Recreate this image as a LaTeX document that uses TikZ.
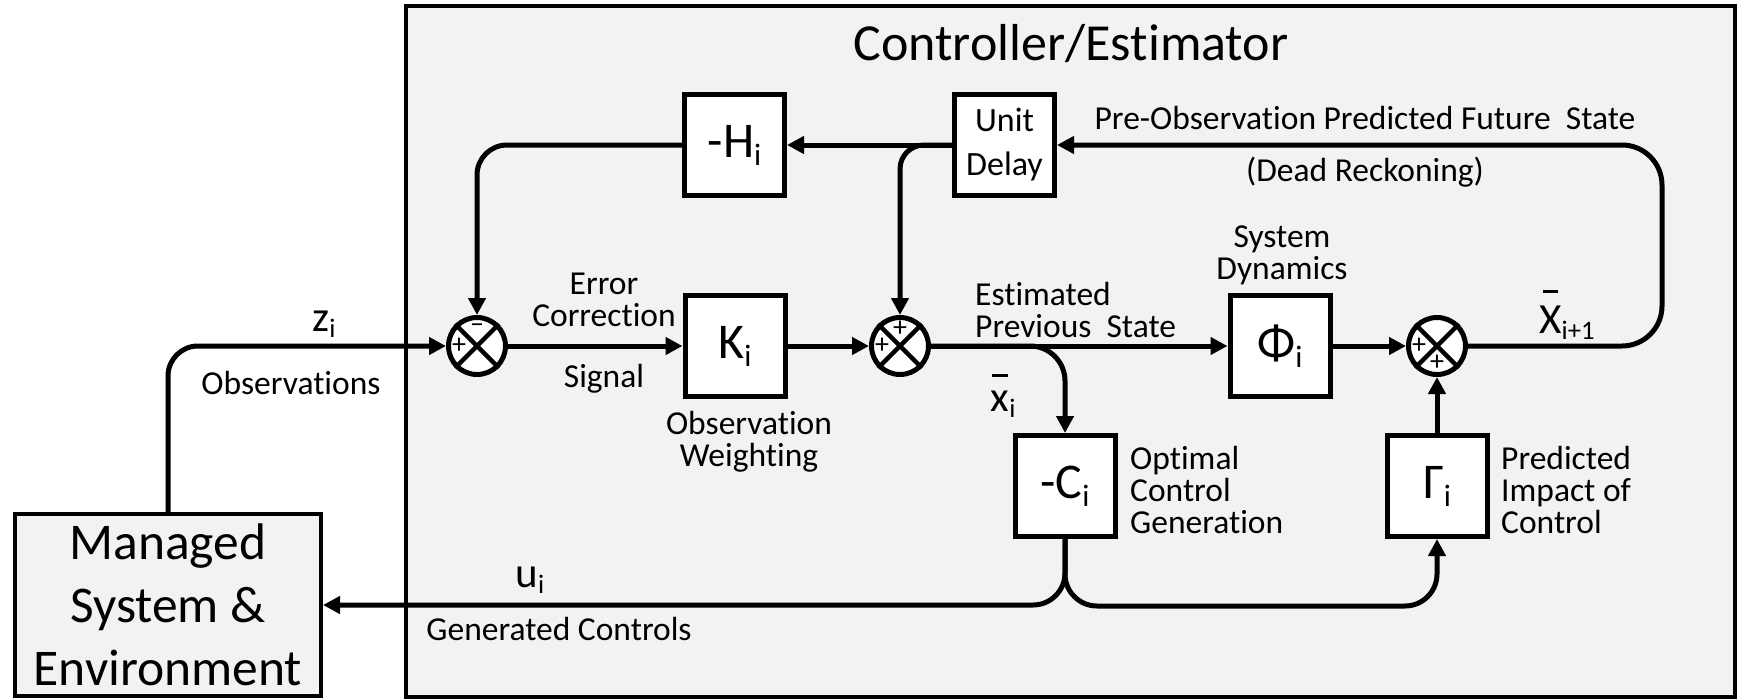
\documentclass[tikz,border=0pt]{standalone}
\usepackage{fontspec}
\setmainfont{Carlito}[Ligatures=NoCommon]
\usetikzlibrary{arrows.meta,calc}
\definecolor{bg}{HTML}{F2F2F2}
\newcommand\ovb[2]{\ooalign{#1\cr\hidewidth\raisebox{#2}{\rule{0.36em}{0.09em}}\hidewidth\cr}}
\newcommand\sbs[1]{\raisebox{-0.16em}{\fontsize{\the\dimexpr0.62\fontdimen6\font\relax}{0pt}\selectfont #1}}
\begin{document}
\begin{tikzpicture}[x=1pt,y=-1pt,
  every node/.style={inner sep=0pt},
  blk/.style={draw,line width=5pt,fill=white,minimum width=100pt,minimum height=101pt,font=\fontsize{50}{60}\selectfont},
  sumj/.style={circle,draw,line width=5pt,fill=white,minimum size=57pt},
  sgn/.style={font=\fontsize{28}{30}\selectfont},
  lbl/.style={font=\fontsize{33.5}{32}\selectfont},
  var/.style={font=\fontsize{43}{50}\selectfont,anchor=base},
  conn/.style={line width=5pt},
  arr/.style={conn,-{Triangle[length=17pt,width=17pt]}}
]
\useasboundingbox (0,0) rectangle (1737,699);
% controller box
\draw[line width=4pt,fill=bg] (406,6) rectangle (1735,697);
\node[font=\fontsize{52}{60}\selectfont] (title) at (1071,44) {Controller/Estimator};
% managed system
\node[draw,line width=4pt,fill=bg,minimum width=306pt,minimum height=182pt,align=center,
  font=\fontsize{51.5}{63}\selectfont] (M) at (168,605) {Managed\\System \&\\Environment};
% blocks
\node[blk] (H) at (734.5,145) {-H\sbs{i}};
\node[blk,font=\fontsize{34}{44}\selectfont,align=center] (UD) at (1004.5,145) {Unit\\Delay};
\node[blk] (K) at (735,346) {K\sbs{i}};
\node[blk] (PH) at (1280,346) {Φ\sbs{i}};
\node[blk] (C) at (1065,486) {-C\sbs{i}};
\node[blk] (G) at (1437,486) {Γ\sbs{i}};
% summing junctions
\node[sumj] (S1) at (477,346) {};
\node[sumj] (S2) at (900,346) {};
\node[sumj] (S3) at (1437,346) {};
\foreach \s in {S1,S2,S3}{
  \draw[line width=4.5pt] (\s.north east)--(\s.south west) (\s.north west)--(\s.south east);
}
\node[sgn] (s1a) at ([yshift=18pt]S1) {–};
\node[sgn] (s1b) at ([xshift=-18pt]S1) {+};
\node[sgn] (s2a) at ([yshift=17pt]S2) {+};
\node[sgn] (s2b) at ([xshift=-18pt]S2) {+};
\node[sgn] (s3a) at ([xshift=-18pt]S3) {+};
\node[sgn] (s3b) at ([yshift=-17pt]S3) {+};
% connectors
\coordinate (Rc) at (1662,250);
\coordinate (B) at (1250,606);
\draw[arr,rounded corners=30pt] (M.north) |- (S1.west);
\draw[arr] (S1.east) -- (K.west);
\draw[arr] (K.east) -- (S2.west);
\draw[arr] (S2.east) -- (PH.west);
\draw[arr,rounded corners=35pt] (S2.east) -| (C.north);
\draw[arr] (PH.east) -- (S3.west);
\draw[arr,rounded corners=40pt] (S3.east) -| (Rc) |- (UD.east);
\draw[arr] (UD.west) -- (H.east);
\draw[arr,rounded corners=24pt] (UD.west) -| (S2.north);
\draw[arr,rounded corners=30pt] (H.west) -| (S1.north);
\draw[arr,rounded corners=32pt] (C.south) |- (M.east);
\draw[arr,rounded corners=32pt] (C.south) |- (B) -| (G.south);
\draw[arr] (G.north) -- (S3.south);
% labels
\node[var] (zl) at (324,331) {z\sbs{i}};
\node[lbl] (obs) at (291,383) {Observations};
\node[lbl,align=center] (err) at (604,300) {Error\\Correction};
\node[lbl] (sig) at (604,379) {Signal};
\node[lbl,align=center] (ow) at (749,442) {Observation\\Weighting};
\node[lbl,align=left,anchor=west] (est) at (975,310) {Estimated\\Previous\ \ State};
\node[var] (xi) at (1003,411) {\ovb{x}{0.78em}\sbs{i}};
\node[lbl,align=center] (sd) at (1282,255) {System\\Dynamics};
\node[var] (xn) at (1567,333) {\ovb{X}{0.92em}\sbs{i+1}};
\node[lbl] (pre) at (1365,118) {Pre-Observation Predicted Future\ \ State};
\node[lbl] (dead) at (1365,172) {(Dead Reckoning)};
\node[lbl,align=left,anchor=west] (ocg) at (1130,490) {Optimal\\Control\\Generation};
\node[lbl,align=left,anchor=west] (pic) at (1501,490) {Predicted\\Impact of\\Control};
\node[var] (ul) at (530,587) {u\sbs{i}};
\node[lbl] (gen) at (559,629) {Generated Controls};
\end{tikzpicture}
\end{document}
